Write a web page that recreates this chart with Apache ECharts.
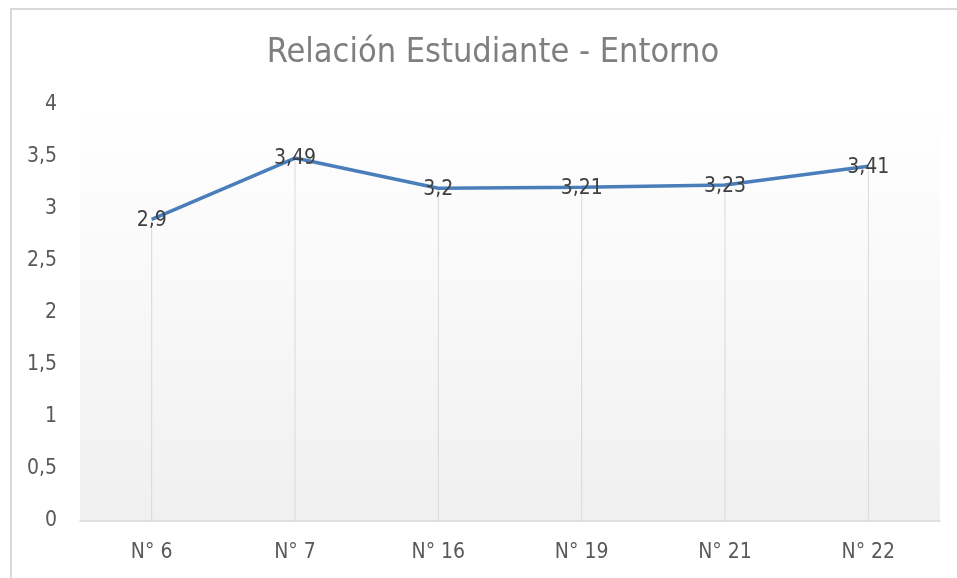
<!DOCTYPE html>
<html>
<head>
<meta charset="utf-8">
<script src="https://cdn.jsdelivr.net/npm/echarts@6/dist/echarts.min.js"></script>
<style>
html,body{margin:0;padding:0;background:#fff;}
#frame{position:absolute;left:10px;top:8px;width:947px;height:570px;border-left:2px solid #d9d9d9;border-top:2px solid #d9d9d9;box-sizing:border-box;}
#c{position:absolute;left:0;top:0;width:957px;height:578px;}
</style>
</head>
<body>
<div id="frame"></div>
<div id="c"></div>
<script>
var titleText = 'Relación Estudiante - Entorno';
var categories = ['N° 6', 'N° 7', 'N° 16', 'N° 19', 'N° 21', 'N° 22'];
var values = [2.9, 3.49, 3.2, 3.21, 3.23, 3.41];
var yTicks = [0, 0.5, 1, 1.5, 2, 2.5, 3, 3.5, 4];

var fmt = function (v) { return String(v).replace('.', ','); };
var font = '"Liberation Sans Narrow", "DejaVu Sans Condensed", "Open Sans", sans-serif';

var chart = echarts.init(document.getElementById('c'), null, {renderer: 'canvas'});
chart.setOption({
  backgroundColor: 'transparent',
  animation: false,
  title: {
    text: titleText,
    left: 488,
    textAlign: 'center',
    top: 31,
    textStyle: {color: '#7f7f7f', fontSize: 34, fontWeight: 'normal', fontFamily: font}
  },
  grid: {
    left: 80, right: 17, top: 105, bottom: 57,
    show: true,
    borderWidth: 0,
    backgroundColor: new echarts.graphic.LinearGradient(0, 0, 0, 1, [
      {offset: 0, color: '#ffffff'},
      {offset: 1, color: '#f0f0f0'}
    ])
  },
  xAxis: {
    type: 'category',
    data: categories,
    boundaryGap: true,
    axisLine: {lineStyle: {color: '#d9d9d9', width: 1.5}},
    axisTick: {show: false},
    axisLabel: {color: '#595959', fontSize: 21, fontFamily: font, margin: 21},
    splitLine: {show: false}
  },
  yAxis: {
    type: 'value',
    min: yTicks[0],
    max: yTicks[yTicks.length - 1],
    interval: 0.5,
    axisLine: {show: false},
    axisTick: {show: false},
    splitLine: {show: false},
    axisLabel: {color: '#595959', fontSize: 21, fontFamily: font, margin: 23, formatter: fmt}
  },
  series: [
    {
      type: 'bar',
      data: values,
      barWidth: 1,
      itemStyle: {color: '#d9d9d9'},
      silent: true,
      z: 1
    },
    {
      type: 'line',
      data: values,
      symbol: 'circle',
      symbolSize: 1,
      showSymbol: true,
      itemStyle: {color: '#4a7ebb', opacity: 0},
      lineStyle: {color: '#4a7ebb', width: 3.5, opacity: 1},
      z: 2,
      label: {
        show: true,
        position: 'inside',
        offset: [0, 1],
        color: '#404040',
        opacity: 1,
        fontSize: 21,
        fontFamily: font,
        formatter: function (p) { return fmt(p.value); }
      }
    }
  ]
});
</script>
</body>
</html>
